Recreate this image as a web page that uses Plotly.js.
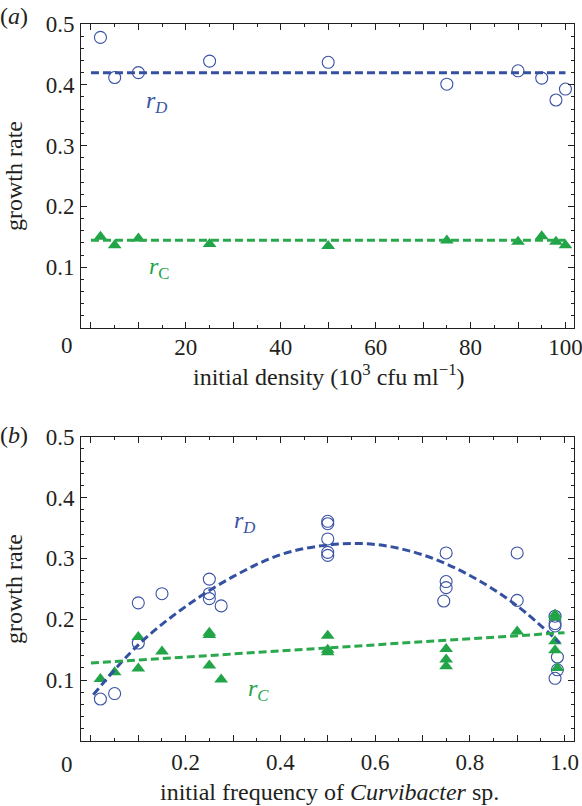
<!DOCTYPE html>
<html>
<head>
<meta charset="utf-8">
<script src="https://cdn.plot.ly/plotly-3.0.1.min.js"></script>
<style>html,body{margin:0;padding:0;background:#fff;}#chart{width:582px;height:806px;}</style>
</head>
<body>
<div id="chart"></div>
<script>
// ---------- Panel (a): initial density ----------
const densX  = [2, 5, 10, 25, 50, 75, 90, 95, 98, 100];
const densRD = [0.478, 0.412, 0.420, 0.439, 0.437, 0.401, 0.423, 0.411, 0.375, 0.393];
const densRC = [0.150, 0.136, 0.147, 0.138, 0.135, 0.144, 0.142, 0.151, 0.142, 0.136];
const fitAX  = [0, 100];
const fitARD = [0.420, 0.420];
const fitARC = [0.1445, 0.1445];

// ---------- Panel (b): initial frequency of Curvibacter ----------
const freqDX = [0.02, 0.05, 0.10, 0.10, 0.15, 0.25, 0.25, 0.25, 0.275,
                0.50, 0.50, 0.50, 0.50, 0.50, 0.75, 0.75, 0.75, 0.745,
                0.90, 0.90, 0.98, 0.98, 0.98, 0.985, 0.985, 0.98];
const freqRD = [0.069, 0.078, 0.227, 0.161, 0.242, 0.266, 0.242, 0.234, 0.222,
                0.361, 0.357, 0.332, 0.310, 0.305, 0.309, 0.262, 0.252, 0.230,
                0.309, 0.231, 0.205, 0.193, 0.189, 0.138, 0.117, 0.103];
const freqCX = [0.02, 0.05, 0.10, 0.10, 0.15, 0.25, 0.25, 0.25, 0.275,
                0.50, 0.50, 0.50, 0.75, 0.75, 0.75, 0.90,
                0.98, 0.98, 0.98, 0.98, 0.985];
const freqRC = [0.102, 0.113, 0.171, 0.119, 0.147, 0.178, 0.174, 0.124, 0.101,
                0.173, 0.150, 0.146, 0.151, 0.134, 0.123, 0.180,
                0.208, 0.203, 0.164, 0.149, 0.120];
const fitBX  = [0.005, 0.1, 0.2, 0.3, 0.4, 0.5, 0.6, 0.7, 0.8, 0.9, 0.99];
const fitBRD = [0.076, 0.158, 0.221, 0.270, 0.306, 0.322, 0.323, 0.306, 0.272, 0.222, 0.161];
const fitBCX = [0.0, 1.0];
const fitBRC = [0.128, 0.178];

// tick labels
const densTicks = [0, 10, 20, 30, 40, 50, 60, 70, 80, 90, 100];
const densText  = ['', '', '20', '', '40', '', '60', '', '80', '', '100'];
const freqTicks = [0, 0.1, 0.2, 0.3, 0.4, 0.5, 0.6, 0.7, 0.8, 0.9, 1.0];
const freqText  = ['', '', '0.2', '', '0.4', '', '0.6', '', '0.8', '', '1.0'];
const rateTicks = [0.1, 0.2, 0.3, 0.4, 0.5];
const rateText  = ['0.1', '0.2', '0.3', '0.4', '0.5'];

const BLUE = '#3a52a3', BLUE_L = '#3450a0';
const GREEN = '#22a448', GREEN_L = '#2aa84c';
const INK = '#231f20';
const SERIF = "'Liberation Serif', 'Times New Roman', serif";
const DASH = '8px,4px';

const traces = [
  {x: densX, y: densRD, xaxis: 'x', yaxis: 'y', mode: 'markers', type: 'scatter',
   marker: {symbol: 'circle-open', size: 12, color: BLUE, line: {width: 1.1, color: BLUE}}},
  {x: densX, y: densRC, xaxis: 'x', yaxis: 'y', mode: 'markers', type: 'scatter',
   marker: {symbol: 'triangle-up', size: 12, color: GREEN}},
  {x: fitAX, y: fitARD, xaxis: 'x', yaxis: 'y', mode: 'lines', type: 'scatter',
   line: {color: BLUE_L, width: 3, dash: DASH}},
  {x: fitAX, y: fitARC, xaxis: 'x', yaxis: 'y', mode: 'lines', type: 'scatter',
   line: {color: GREEN_L, width: 3, dash: DASH}},

  {x: freqDX, y: freqRD, xaxis: 'x2', yaxis: 'y2', mode: 'markers', type: 'scatter',
   marker: {symbol: 'circle-open', size: 12, color: BLUE, line: {width: 1.1, color: BLUE}}},
  {x: freqCX, y: freqRC, xaxis: 'x2', yaxis: 'y2', mode: 'markers', type: 'scatter',
   marker: {symbol: 'triangle-up', size: 12, color: GREEN}},
  {x: fitBX, y: fitBRD, xaxis: 'x2', yaxis: 'y2', mode: 'lines', type: 'scatter',
   line: {color: BLUE_L, width: 3, dash: DASH, shape: 'spline'}},
  {x: fitBCX, y: fitBRC, xaxis: 'x2', yaxis: 'y2', mode: 'lines', type: 'scatter',
   line: {color: GREEN_L, width: 3, dash: DASH}}
];

function xAxis(range, vals, text, anchor, minorD, standoff) {
  return {
    domain: [0, 1], anchor: anchor, range: range,
    tickmode: 'array', tickvals: vals, ticktext: text,
    ticks: 'inside', ticklen: 6, tickwidth: 1, tickcolor: INK,
    minor: {dtick: minorD, tick0: 0, ticks: 'inside', ticklen: 3, tickwidth: 1, tickcolor: INK, showgrid: false},
    showline: true, linecolor: INK, linewidth: 1, mirror: 'allticks',
    showgrid: false, zeroline: false,
    tickfont: {family: SERIF, size: 23, color: INK},
    ticklabelstandoff: standoff,
    ticklabeloverflow: 'allow'
  };
}
function yAxis(dom, anchor) {
  return {
    domain: dom, anchor: anchor, range: [0, 0.5],
    tickmode: 'array', tickvals: rateTicks, ticktext: rateText,
    ticks: 'inside', ticklen: 6, tickwidth: 1, tickcolor: INK,
    minor: {dtick: 0.02, tick0: 0, ticks: 'inside', ticklen: 3, tickwidth: 1, tickcolor: INK, showgrid: false},
    showline: true, linecolor: INK, linewidth: 1, mirror: 'allticks',
    showgrid: false, zeroline: false,
    tickfont: {family: SERIF, size: 23, color: INK},
    ticklabelstandoff: 1,
    ticklabeloverflow: 'allow'
  };
}

const H = 717, TOP = 24, L = 81, W = 493;
function py(p) { return (TOP + H - p) / H; }   // pixel y -> paper y
function px(p) { return (p - L) / W; }         // pixel x -> paper x

const ann = (x, y, text, size, color, extra) => Object.assign({
  xref: 'paper', yref: 'paper', x: px(x), y: py(y), text: text, showarrow: false,
  xanchor: 'center', yanchor: 'middle',
  font: {family: SERIF, size: size, color: color}
}, extra || {});

const annotations = [
  ann(14, 16, '(<i>a</i>)', 24, INK),
  ann(14, 435, '(<i>b</i>)', 24, INK),
  ann(67, 346, '0', 23, INK),
  ann(67, 764, '0', 23, INK),
  ann(14, 176, 'growth rate', 24, INK, {textangle: -90}),
  ann(14, 589, 'growth rate', 24, INK, {textangle: -90}),
  ann(329, 375, 'initial density (10<sup>3</sup> cfu ml<sup>−1</sup>)', 24, INK),
  ann(329, 792, 'initial frequency of <i>Curvibacter</i> sp.', 24, INK),
  ann(156, 102, '<i>r</i><sub><i>D</i></sub>', 24, BLUE),
  ann(159, 268, '<i>r</i><sub>C</sub>', 24, GREEN),
  ann(244, 522, '<i>r</i><sub><i>D</i></sub>', 24, BLUE),
  ann(258, 690, '<i>r</i><sub><i>C</i></sub>', 24, GREEN)
];

const layout = {
  width: 582, height: 806,
  margin: {l: L, r: 582 - L - W, t: TOP, b: 806 - TOP - H},
  paper_bgcolor: '#fff', plot_bgcolor: '#fff',
  showlegend: false,
  xaxis: xAxis([-2.1, 101.8], densTicks, densText, 'y', 5, -2),
  yaxis: yAxis([py(328), 1], 'x'),
  xaxis2: xAxis([-0.021, 1.02], freqTicks, freqText, 'y2', 0.05, 0),
  yaxis2: yAxis([0, py(436.7)], 'x2'),
  annotations: annotations
};

Plotly.newPlot('chart', traces, layout, {staticPlot: true, displayModeBar: false});
</script>
</body>
</html>
